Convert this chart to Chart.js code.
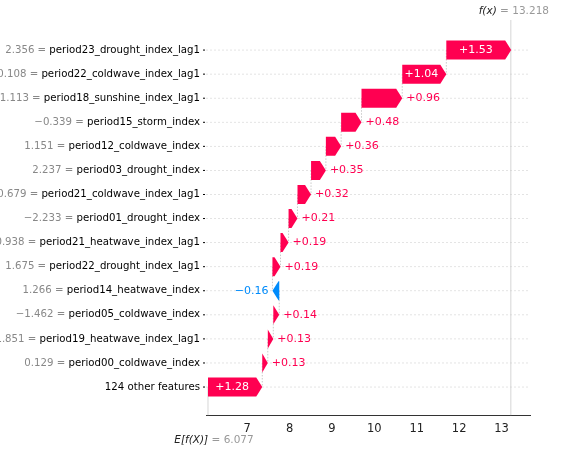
<!DOCTYPE html>
<html><head><meta charset="utf-8">
<script src="https://cdn.jsdelivr.net/npm/chart.js@4"></script>
<style>html,body{margin:0;padding:0;background:#fff}#w{width:566px;height:451px}</style>
</head><body><div id="w"><canvas id="c"></canvas></div>
<script>
const featureNames = ["period23_drought_index_lag1","period22_coldwave_index_lag1","period18_sunshine_index_lag1","period15_storm_index","period12_coldwave_index","period03_drought_index","period21_coldwave_index_lag1","period01_drought_index","period21_heatwave_index_lag1","period22_drought_index_lag1","period14_heatwave_index","period05_coldwave_index","period19_heatwave_index_lag1","period00_coldwave_index","124 other features"];
const featureValues = ["2.356","0.108","1.113","\u22120.339","1.151","2.237","\u22120.679","\u22122.233","0.938","1.675","1.266","\u22121.462","1.851","0.129",""];
const shapValues = [1.53,1.04,0.96,0.48,0.36,0.35,0.32,0.21,0.19,0.19,-0.16,0.14,0.13,0.13,1.28];
const baseValue = 6.077;
const fx = 13.218;
const xTicks = [7,8,9,10,11,12,13];

const n = shapValues.length;
const ranges = new Array(n);
let cur = baseValue;
for (let i = n-1; i >= 0; i--) { ranges[i] = [cur, cur + shapValues[i]]; cur += shapValues[i]; }
const PINK = '#ff0051', BLUE = '#008bfb';
const FONT = '10.2px "DejaVu Sans"';

const plug = {
  id: 'wf',
  beforeDatasetsDraw(ch) {
    const {ctx, scales:{x,y}, chartArea:a} = ch;
    ctx.save();
    ctx.strokeStyle = '#ddd'; ctx.lineWidth = 0.8; ctx.setLineDash([2,2]);
    for (let i=0;i<n;i++){ const py=y.getPixelForValue(i); ctx.beginPath(); ctx.moveTo(a.left,py); ctx.lineTo(a.right,py); ctx.stroke(); }
    ctx.setLineDash([]); ctx.strokeStyle='#ccc';
    let px = x.getPixelForValue(fx); ctx.beginPath(); ctx.moveTo(px, a.top-6); ctx.lineTo(px, a.bottom); ctx.stroke();
    px = x.getPixelForValue(baseValue); ctx.beginPath(); ctx.moveTo(px, y.getPixelForValue(n-1)); ctx.lineTo(px, a.bottom); ctx.stroke();
    ctx.strokeStyle='#bbb'; ctx.setLineDash([1.5,1.5]);
    for (let i=0;i<n-1;i++){ const sx=x.getPixelForValue(ranges[i][0]); ctx.beginPath(); ctx.moveTo(sx,y.getPixelForValue(i)); ctx.lineTo(sx,y.getPixelForValue(i+1)); ctx.stroke(); }
    ctx.restore();
  },
  afterDatasetsDraw(ch) {
    const {ctx, scales:{x,y}, chartArea:a} = ch;
    ctx.save();
    const h = 9.5;
    for (let i=0;i<n;i++){
      const [s,e] = ranges[i]; const py = y.getPixelForValue(i);
      const xs = x.getPixelForValue(s), xe = x.getPixelForValue(e);
      const pos = e > s; const col = pos ? PINK : BLUE;
      const w = Math.abs(xe-xs); const head = Math.min(6, w);
      const dir = pos?1:-1;
      ctx.fillStyle = col; ctx.beginPath();
      ctx.moveTo(xs, py-h); ctx.lineTo(xe-dir*head, py-h); ctx.lineTo(xe, py); ctx.lineTo(xe-dir*head, py+h); ctx.lineTo(xs, py+h);
      ctx.closePath(); ctx.fill();
      const txt = (pos?'+':'\u2212') + Math.abs(shapValues[i]).toFixed(2);
      ctx.font = '11px "DejaVu Sans"'; ctx.textBaseline='middle';
      const tw = ctx.measureText(txt).width;
      if (tw + 4 < w - head) { ctx.fillStyle='#fff'; ctx.textAlign='center'; ctx.fillText(txt, (xs+xe-dir*head)/2, py); }
      else if (pos) { ctx.fillStyle=col; ctx.textAlign='left'; ctx.fillText(txt, xe+4, py); }
      else { ctx.fillStyle=col; ctx.textAlign='right'; ctx.fillText(txt, xe-4, py); }
      ctx.textAlign='right'; ctx.font=FONT;
      const nm = featureNames[i]; const nx = a.left - 6;
      ctx.fillStyle='#000'; ctx.fillText(nm, nx, py);
      if (featureValues[i]) { const nw = ctx.measureText(nm).width; ctx.fillStyle='#888'; ctx.fillText(featureValues[i]+' = ', nx-nw, py); }
      ctx.strokeStyle='#000'; ctx.lineWidth=1; ctx.beginPath(); ctx.moveTo(a.left-3,py); ctx.lineTo(a.left-1,py); ctx.stroke();
    }
    const drawPair=(t1,t2,cx,cy)=>{ ctx.font='italic 10.5px "DejaVu Sans"'; const w1=ctx.measureText(t1).width; ctx.font='10.5px "DejaVu Sans"'; const w2=ctx.measureText(t2).width; let sx=cx-(w1+w2)/2; ctx.textBaseline='middle'; ctx.textAlign='left'; ctx.font='italic 10.5px "DejaVu Sans"'; ctx.fillStyle='#222'; ctx.fillText(t1,sx,cy); ctx.font='10.5px "DejaVu Sans"'; ctx.fillStyle='#999'; ctx.fillText(t2,sx+w1,cy); };
    drawPair('f(x)',' = 13.218', x.getPixelForValue(fx)+3, 11);
    drawPair('E[f(X)]',' = 6.077', x.getPixelForValue(baseValue)+6, 440);
    ctx.restore();
  }
};

new Chart(document.getElementById('c'), {
  type: 'bar',
  data: { datasets: [{ data: ranges.map((r,i)=>({x:r, y:i})), backgroundColor:'rgba(0,0,0,0)', barThickness:18 }] },
  options: {
    responsive:true, maintainAspectRatio:false, animation:false,
    indexAxis:'y',
    layout:{ padding:{ left:206, right:36, top:26, bottom:13 } },
    plugins:{ legend:{display:false}, tooltip:{enabled:false} },
    scales:{
      y:{ type:'linear', display:false, offset:false, min:-1, max:15.17, reverse:true },
      x:{ type:'linear', min:6.03, max:13.67, afterBuildTicks:(s)=>{ s.ticks = xTicks.map(v=>({value:v})); },
          grid:{ display:false, drawTicks:true, tickLength:5 }, border:{ color:'#333' },
          ticks:{ color:'#222', padding:2, font:{ size:11.5, family:'DejaVu Sans' } } }
    }
  },
  plugins:[plug]
});
</script></body></html>
